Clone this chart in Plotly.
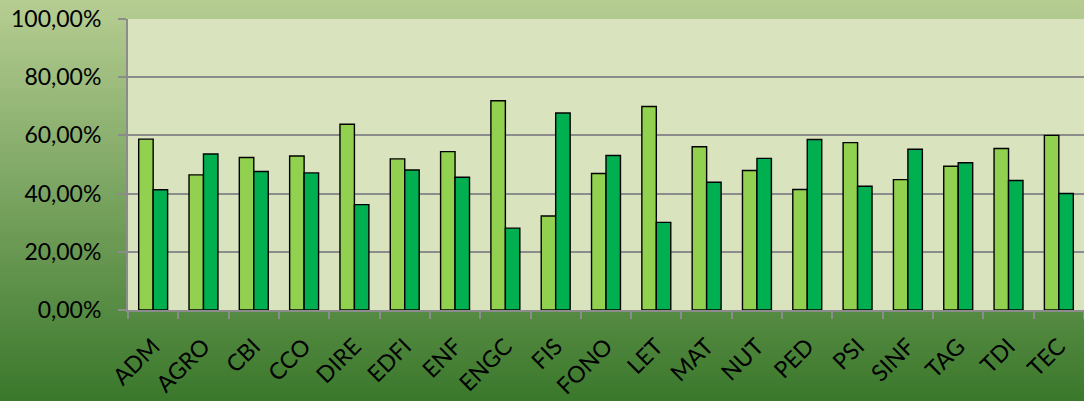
import plotly.graph_objects as go

# Cursos
cursos = ['ADM', 'AGRO', 'CBI', 'CCO', 'DIRE', 'EDFI', 'ENF', 'ENGC', 'FIS', 'FONO',
          'LET', 'MAT', 'NUT', 'PED', 'PSI', 'SINF', 'TAG', 'TDI', 'TEC']

# Percentuais (%)
serie_1 = [58.7, 46.4, 52.4, 52.9, 63.8, 51.9, 54.4, 71.9, 32.3, 46.9,
           69.9, 56.1, 47.9, 41.4, 57.5, 44.8, 49.4, 55.5, 60.0]
serie_2 = [41.3, 53.6, 47.6, 47.1, 36.2, 48.1, 45.6, 28.1, 67.7, 53.1,
           30.1, 43.9, 52.1, 58.6, 42.5, 55.2, 50.6, 44.5, 40.0]

W, H = 1084, 401
x0 = 128 / W
y_bottom = (H - 309.9) / H
y_top = (H - 19) / H

fig = go.Figure()
fig.add_trace(go.Bar(x=cursos, y=serie_1, name='Série 1',
                     marker=dict(color='#92d050', line=dict(color='black', width=1.4))))
fig.add_trace(go.Bar(x=cursos, y=serie_2, name='Série 2',
                     marker=dict(color='#00b050', line=dict(color='black', width=1.4))))

# fundo em degradê (faixas horizontais)
top_rgb = (182, 205, 146)
bot_rgb = (58, 120, 44)
n = 100
shapes = []
for i in range(n):
    t = i / (n - 1)
    c = tuple(round(top_rgb[k] + (bot_rgb[k] - top_rgb[k]) * t) for k in range(3))
    shapes.append(dict(type='rect', xref='paper', yref='paper', layer='below',
                       x0=0, x1=1, y0=1 - (i + 1) / n - 0.002, y1=1 - i / n,
                       fillcolor='rgb(%d,%d,%d)' % c, line=dict(width=0)))
# área do gráfico
shapes.append(dict(type='rect', xref='paper', yref='paper', layer='below',
                   x0=x0, x1=1, y0=y_bottom, y1=y_top,
                   fillcolor='#d9e4bf', line=dict(width=0)))

fig.update_layout(
    width=W, height=H,
    margin=dict(l=0, r=0, t=0, b=0),
    paper_bgcolor='#3c7a2e',
    plot_bgcolor='rgba(0,0,0,0)',
    barmode='group', bargap=0.425, bargroupgap=0,
    showlegend=False,
    separators=',.',
    font=dict(family='Lato', size=23, color='black'),
    shapes=shapes,
)
fig.update_xaxes(
    domain=[x0, 1], automargin=False,
    showline=True, linecolor='#8c8c8c', linewidth=2,
    ticks='outside', tickson='boundaries', ticklen=7, tickcolor='#8c8c8c', tickwidth=2,
    tickangle=-45, tickfont=dict(size=23), ticklabelstandoff=12,
    showgrid=False,
)
fig.update_yaxes(
    domain=[y_bottom, y_top], automargin=False,
    range=[0, 100], dtick=20, tickformat='.2f', ticksuffix='%',
    showline=True, linecolor='#8c8c8c', linewidth=2,
    ticks='outside', ticklen=8, tickcolor='#8c8c8c', tickwidth=2,
    ticklabelstandoff=12,
    showgrid=True, gridcolor='#8c8c8c', gridwidth=2,
    zeroline=False,
)

fig.write_html("out.html", config={'displayModeBar': False},
               post_script="document.body.style.margin='0';")
